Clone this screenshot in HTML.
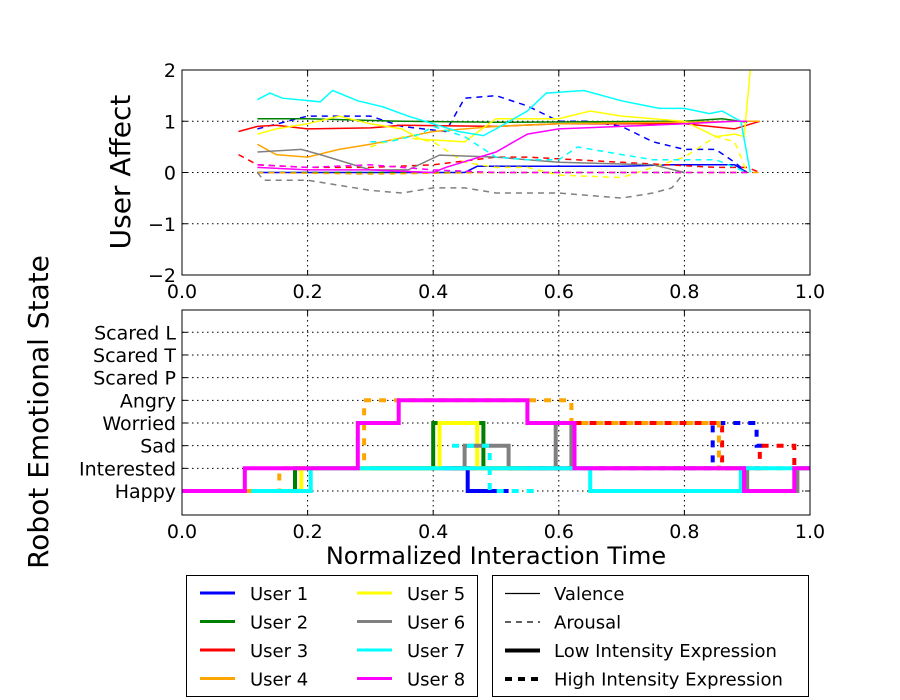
<!DOCTYPE html>
<html><head><meta charset="utf-8"><style>
html,body{margin:0;padding:0;background:#fff;}
svg{display:block;font-family:"DejaVu Sans","Liberation Sans",sans-serif;}
</style></head><body>
<svg id="chart" width="900" height="700" viewBox="0 0 900 700">
<g id="topPanel"></g>
<g id="botPanel"></g>
<text x="130" y="172" transform="rotate(-90 130 172)" text-anchor="middle" font-size="28">User Affect</text>
<text x="48" y="412" transform="rotate(-90 48 412)" text-anchor="middle" font-size="28">Robot Emotional State</text>
<text x="496" y="564" text-anchor="middle" font-size="24">Normalized Interaction Time</text>
<g>
<rect x="186.5" y="575.5" width="291" height="121" fill="#fff" stroke="#000"/>
<g id="leg1"></g>
</g>
<g>
<rect x="492.5" y="575.5" width="316" height="121" fill="#fff" stroke="#000"/>
<g id="leg2"></g>
</g>
</svg>
<script>
const NS="http://www.w3.org/2000/svg";
const xTicks=[0.0,0.2,0.4,0.6,0.8,1.0];
const xTickLabels=["0.0","0.2","0.4","0.6","0.8","1.0"];
const yTicksTop=[-2,-1,0,1,2];
const yTickLabelsTop=["\u22122","\u22121","0","1","2"];
const categories=["Happy","Interested","Sad","Worried","Angry","Scared P","Scared T","Scared L"];
const userNames=["User 1","User 2","User 3","User 4","User 5","User 6","User 7","User 8"];
const userColors=["#0000ff","#008000","#ff0000","#ffa500","#ffff00","#808080","#00ffff","#ff00ff"];

const affU1V_t=[0.12,0.3,0.45,0.47,0.6,0.7,0.78,0.8,0.88,0.9];
const affU1V_v=[0.0,0.0,0.0,0.12,0.12,0.12,0.15,0.15,0.15,0.0];
const affU1A_t=[0.12,0.2,0.3,0.35,0.42,0.45,0.5,0.55,0.6,0.65,0.7,0.75,0.8,0.85,0.88,0.9];
const affU1A_v=[0.85,1.1,1.1,0.9,0.8,1.45,1.5,1.3,1.0,1.0,0.9,0.6,0.45,0.45,0.2,0.0];
const affU2V_t=[0.12,0.2,0.35,0.5,0.8,0.86,0.9];
const affU2V_v=[1.05,1.05,1.0,0.98,1.0,1.05,0.98];
const affU2A_t=[0.12,0.9];
const affU2A_v=[0.0,0.0];
const affU3V_t=[0.09,0.12,0.15,0.2,0.3,0.35,0.5,0.6,0.8,0.88,0.92];
const affU3V_v=[0.8,0.9,0.92,0.85,0.87,0.92,0.9,0.95,0.95,0.85,1.0];
const affU3A_t=[0.09,0.12,0.2,0.3,0.4,0.5,0.55,0.7,0.85,0.9,0.92];
const affU3A_v=[0.35,0.15,0.1,0.1,0.15,0.3,0.3,0.2,0.1,0.1,0.0];
const affU4V_t=[0.12,0.15,0.2,0.25,0.3,0.4,0.5,0.6,0.9,0.92];
const affU4V_v=[0.55,0.35,0.3,0.45,0.55,0.8,0.9,0.95,1.0,1.0];
const affU4A_t=[0.12,0.3,0.5,0.92];
const affU4A_v=[0.0,-0.03,0.0,0.0];
const affU5V_t=[0.12,0.15,0.2,0.25,0.3,0.35,0.38,0.45,0.5,0.55,0.6,0.65,0.7,0.8,0.85,0.88,0.895,0.905];
const affU5V_v=[0.75,0.85,0.95,1.1,0.95,0.85,0.65,0.6,1.05,1.05,1.05,1.2,1.1,1.0,0.7,0.75,0.7,2.0];
const affU5A_t=[0.3,0.35,0.4,0.45,0.5,0.55,0.6,0.7,0.8,0.85,0.88,0.9];
const affU5A_v=[0.5,0.7,0.6,0.2,0.1,0.1,-0.05,-0.1,0.3,0.7,0.6,0.0];
const affU6V_t=[0.12,0.19,0.22,0.3,0.36,0.41,0.5,0.55,0.6,0.75,0.8];
const affU6V_v=[0.4,0.45,0.35,0.05,0.05,0.34,0.3,0.25,0.2,0.15,0.0];
const affU6A_t=[0.12,0.13,0.2,0.3,0.35,0.4,0.45,0.5,0.6,0.7,0.75,0.78,0.8];
const affU6A_v=[0.0,-0.15,-0.15,-0.35,-0.4,-0.3,-0.3,-0.4,-0.4,-0.5,-0.4,-0.3,0.0];
const affU7V_t=[0.12,0.14,0.16,0.22,0.24,0.28,0.32,0.36,0.4,0.44,0.48,0.5,0.55,0.58,0.64,0.7,0.76,0.8,0.84,0.86,0.89,0.905];
const affU7V_v=[1.42,1.55,1.45,1.38,1.6,1.4,1.28,1.1,0.95,0.8,0.72,0.85,1.2,1.55,1.6,1.4,1.25,1.25,1.15,1.2,1.0,0.0];
const affU7A_t=[0.3,0.33,0.38,0.4,0.45,0.5,0.55,0.6,0.63,0.7,0.75,0.8,0.85,0.88,0.9];
const affU7A_v=[0.6,0.6,0.75,0.9,0.7,0.3,0.25,0.25,0.5,0.35,0.25,0.25,0.25,0.1,0.0];
const affU8V_t=[0.12,0.2,0.3,0.4,0.42,0.5,0.55,0.6,0.7,0.8,0.88,0.9];
const affU8V_v=[0.1,0.05,0.05,0.0,0.1,0.4,0.75,0.85,0.9,0.95,1.0,1.0];
const affU8A_t=[0.12,0.2,0.3,0.4,0.5,0.6,0.7,0.8,0.9];
const affU8A_v=[0.15,0.1,0.15,0.05,0.0,0.0,0.0,0.0,0.0];

const stU1L_t=[0.3,0.455,0.52]; const stU1L_l=[1,0];
const stU1H_t=[0.52,0.845,0.915,0.93]; const stU1H_l=[1,3,2];
const stU2L_t=[0.14,0.18,0.4,0.48,0.55]; const stU2L_l=[0,1,3,1];
const stU3L_t=[0.43,0.625]; const stU3L_l=[1];
const stU3H_t=[0.625,0.86,0.92,0.975,1.0]; const stU3H_l=[3,1,2,1];
const stU4H_t=[0.1,0.155,0.29,0.62,0.855,1.0]; const stU4H_l=[0,1,4,3,1];
const stU5L_t=[0.14,0.19,0.41,0.47,0.55]; const stU5L_l=[0,1,3,1];
const stU6L_t=[0.44,0.45,0.52,0.595,0.62,0.9,0.98,1.0]; const stU6L_l=[1,2,1,3,1,0,1];
const stU7L_t=[0.11,0.205,0.65,0.89,1.0]; const stU7L_l=[0,1,0,1];
const stU7H_t=[0.43,0.49,0.57]; const stU7H_l=[2,0];
const stU8L_t=[0,0.1,0.28,0.345,0.55,0.625,0.895,0.975,1.0]; const stU8L_l=[0,1,3,4,3,1,0,1];

const X=t=>182+628*t;
const Yt=v=>172.5-51.25*v;
const Yb=l=>491-22.67*l;

function mk(tag,attrs,parent){const e=document.createElementNS(NS,tag);for(const k in attrs)e.setAttribute(k,attrs[k]);parent.appendChild(e);return e;}
const topG=document.getElementById('topPanel'), botG=document.getElementById('botPanel');

function axes(g,y0,y1,gridYs,yLabels,name){
  const bg=mk('rect',{x:182,y:y0,width:628,height:y1-y0,fill:'#fff'},g);
  
  
  xTicks.forEach((t,i)=>{
    if(i>0&&i<xTicks.length-1){const l=mk('line',{x1:X(t),x2:X(t),y1:y0,y2:y1,stroke:'#000','stroke-dasharray':'1.5,3.5','stroke-width':1},g);
      
      }
    const tx=mk('text',{x:X(t),y:y1+23,'text-anchor':'middle','font-size':19},g);tx.textContent=xTickLabels[i];
    
    
    mk('line',{x1:X(t),x2:X(t),y1:y1,y2:y1-5,stroke:'#000'},g);
    mk('line',{x1:X(t),x2:X(t),y1:y0,y2:y0+5,stroke:'#000'},g);
  });
  gridYs.forEach((y,i)=>{
    if(y>y0+1&&y<y1-1){const l=mk('line',{x1:182,x2:810,y1:y,y2:y,stroke:'#000','stroke-dasharray':'1.5,3.5','stroke-width':1},g);
      
      }
    mk('line',{x1:182,x2:187,y1:y,y2:y,stroke:'#000'},g);
    mk('line',{x1:810,x2:805,y1:y,y2:y,stroke:'#000'},g);
    const tx=mk('text',{x:176,y:y+7,'text-anchor':'end','font-size':19},g);tx.textContent=yLabels[i];
    
    
  });
}
axes(topG,70,275,yTicksTop.map(Yt),yTickLabelsTop,'top');
axes(botG,310,515,categories.map((c,i)=>Yb(i)),categories,'bottom');

const clipT=mk('clipPath',{id:'ct'},topG);mk('rect',{x:182,y:70,width:628,height:205},clipT);
const clipB=mk('clipPath',{id:'cb'},botG);mk('rect',{x:182,y:310,width:628,height:205},clipB);
const gT=mk('g',{'clip-path':'url(#ct)'},topG), gB=mk('g',{'clip-path':'url(#cb)'},botG);

const affect=[[0,0,affU1V_t,affU1V_v],[0,1,affU1A_t,affU1A_v],[1,0,affU2V_t,affU2V_v],[1,1,affU2A_t,affU2A_v],
[2,0,affU3V_t,affU3V_v],[2,1,affU3A_t,affU3A_v],[3,0,affU4V_t,affU4V_v],[3,1,affU4A_t,affU4A_v],
[4,0,affU5V_t,affU5V_v],[4,1,affU5A_t,affU5A_v],[5,0,affU6V_t,affU6V_v],[5,1,affU6A_t,affU6A_v],
[6,0,affU7V_t,affU7V_v],[6,1,affU7A_t,affU7A_v],[7,0,affU8V_t,affU8V_v],[7,1,affU8A_t,affU8A_v]];
affect.forEach(s=>{
  const d=s[2].map((t,i)=>(i?'L':'M')+X(t).toFixed(1)+' '+Yt(s[3][i]).toFixed(1)).join(' ');
  const p=mk('path',{d:d,fill:'none',stroke:userColors[s[0]],'stroke-width':1.5},gT);
  if(s[1])p.setAttribute('stroke-dasharray','6,5');
  
  
});

const steps=[[0,0,stU1L_t,stU1L_l],[0,1,stU1H_t,stU1H_l],[1,0,stU2L_t,stU2L_l],[2,0,stU3L_t,stU3L_l],[2,1,stU3H_t,stU3H_l],
[3,1,stU4H_t,stU4H_l],[4,0,stU5L_t,stU5L_l],[5,0,stU6L_t,stU6L_l],[6,1,stU7H_t,stU7H_l],[6,0,stU7L_t,stU7L_l],[7,0,stU8L_t,stU8L_l]];
steps.forEach(s=>{
  const t=s[2],l=s[3];let d='M'+X(t[0]).toFixed(1)+' '+Yb(l[0]).toFixed(1);
  for(let i=0;i<l.length;i++){
    if(i>0)d+=' L'+X(t[i]).toFixed(1)+' '+Yb(l[i]).toFixed(1);
    d+=' L'+X(t[i+1]).toFixed(1)+' '+Yb(l[i]).toFixed(1);
  }
  const p=mk('path',{d:d,fill:'none',stroke:userColors[s[0]],'stroke-width':4},gB);
  if(s[1])p.setAttribute('stroke-dasharray','7,8');
  
  
});

[[70,275],[310,515]].forEach(r=>{
  const f=mk('rect',{x:182,y:r[0],width:628,height:r[1]-r[0],fill:'none',stroke:'#000','stroke-width':1},document.getElementById('chart'));
  
  
});

const leg1=document.getElementById('leg1');
userNames.forEach((n,i)=>{
  const col=i<4?0:1,row=i%4;const x=col?357:200,y=593+row*28.5;
  const l=mk('line',{x1:x,x2:x+35,y1:y,y2:y,stroke:userColors[i],'stroke-width':3},leg1);
  
  
  const t=mk('text',{x:x+50,y:y+7,'font-size':18},leg1);t.textContent=n;
  
  
});
const styleNames=["Valence","Arousal","Low Intensity Expression","High Intensity Expression"];
const leg2=document.getElementById('leg2');
styleNames.forEach((n,i)=>{
  const y=593+i*28.5;
  const l=mk('line',{x1:505,x2:540,y1:y+0.5,y2:y+0.5,stroke:'#000','stroke-width':i<2?1.2:4},leg2);
  if(i==1)l.setAttribute('stroke-dasharray','6,5');
  if(i==3)l.setAttribute('stroke-dasharray','7,6');
  
  
  const t=mk('text',{x:554,y:y+7,'font-size':18},leg2);t.textContent=n;
  
  
});
</script>
</body></html>
